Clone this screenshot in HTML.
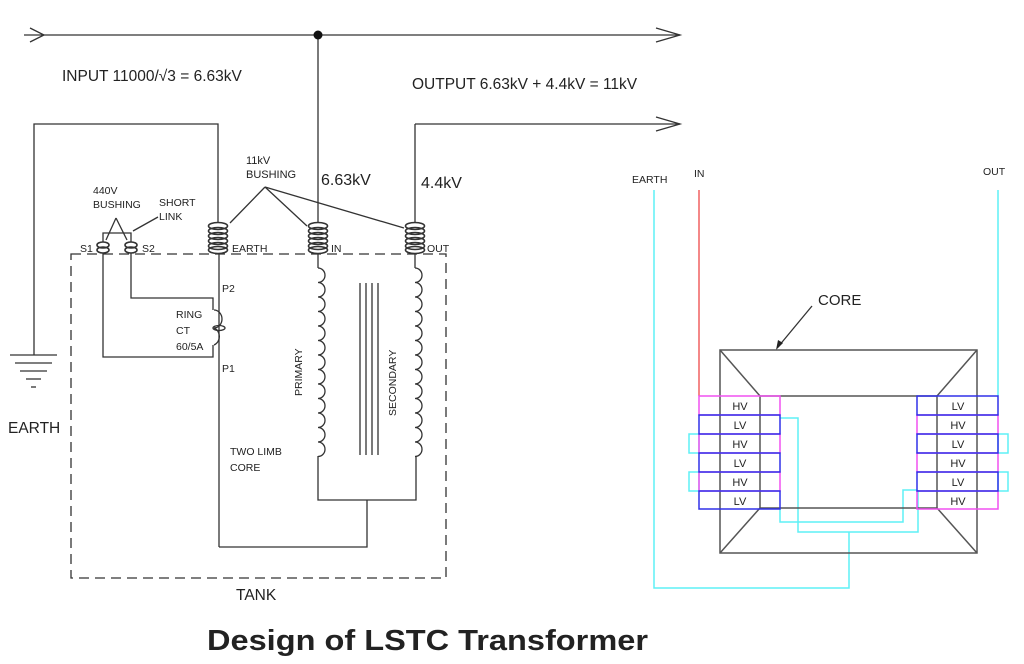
<!DOCTYPE html>
<html><head><meta charset="utf-8"><style>
body{margin:0;background:#fff;}
svg{display:block;}
text{font-family:"Liberation Sans",Arial,sans-serif;fill:#222;}
</style></head><body>
<svg width="1024" height="664" viewBox="0 0 1024 664" xmlns="http://www.w3.org/2000/svg">
<g stroke="#333" stroke-width="1.3" fill="none">
<line x1="24" y1="35" x2="680" y2="35"/>
<polyline points="30,28 44,35 30,42"/>
<polyline points="656,28 680,35 656,42"/>
<line x1="318" y1="35" x2="318" y2="222"/>
<line x1="415" y1="124" x2="680" y2="124"/>
<polyline points="656,117 680,124 656,131"/>
<line x1="415" y1="124" x2="415" y2="222"/>
<polyline points="218,222 218,124 34,124 34,355"/>
<line x1="10" y1="355" x2="57" y2="355"/>
<line x1="15" y1="363" x2="52" y2="363"/>
<line x1="20" y1="371" x2="47" y2="371"/>
<line x1="26" y1="379" x2="41" y2="379"/>
<line x1="31" y1="387" x2="36" y2="387"/>
<rect x="71" y="254" width="375" height="324" stroke-dasharray="10,6"/>
<g stroke-width="1.6">
<ellipse cx="218" cy="226" rx="9.5" ry="3.5"/><ellipse cx="218" cy="231" rx="9.5" ry="3.5"/><ellipse cx="218" cy="236" rx="9.5" ry="3.5"/><ellipse cx="218" cy="241" rx="9.5" ry="3.5"/><ellipse cx="218" cy="246" rx="9.5" ry="3.5"/><ellipse cx="218" cy="250" rx="9.5" ry="3.5"/>
<ellipse cx="318" cy="226" rx="9.5" ry="3.5"/><ellipse cx="318" cy="231" rx="9.5" ry="3.5"/><ellipse cx="318" cy="236" rx="9.5" ry="3.5"/><ellipse cx="318" cy="241" rx="9.5" ry="3.5"/><ellipse cx="318" cy="246" rx="9.5" ry="3.5"/><ellipse cx="318" cy="250" rx="9.5" ry="3.5"/>
<ellipse cx="415" cy="226" rx="9.5" ry="3.5"/><ellipse cx="415" cy="231" rx="9.5" ry="3.5"/><ellipse cx="415" cy="236" rx="9.5" ry="3.5"/><ellipse cx="415" cy="241" rx="9.5" ry="3.5"/><ellipse cx="415" cy="246" rx="9.5" ry="3.5"/><ellipse cx="415" cy="250" rx="9.5" ry="3.5"/>
<ellipse cx="103" cy="245" rx="6" ry="3"/><ellipse cx="103" cy="250" rx="6" ry="3"/>
<ellipse cx="131" cy="245" rx="6" ry="3"/><ellipse cx="131" cy="250" rx="6" ry="3"/>
</g>
<polyline points="103,242 103,233 131,233 131,242"/>
<polyline points="116,218 106,240"/><polyline points="116,218 127,240"/>
<line x1="158" y1="217" x2="133" y2="231"/>
<line x1="265" y1="187" x2="230" y2="223"/>
<line x1="265" y1="187" x2="307" y2="226"/>
<line x1="265" y1="187" x2="404" y2="228"/>
<polyline points="131,253 131,298 213,298 213,310"/>
<polyline points="103,253 103,357 213,357 213,345"/>
<path d="M214,310 a8,9 0 0 1 0,18 a8,9 0 0 1 0,17"/>
<ellipse cx="219" cy="328" rx="6" ry="2.5"/>
<line x1="219" y1="253" x2="219" y2="547"/>
<polyline points="219,547 367,547 367,500"/>
<line x1="318" y1="253" x2="318" y2="268"/>
<path d="M318,268 a7,7.25 0 0 1 0,14.5 a7,7.25 0 0 1 0,14.5 a7,7.25 0 0 1 0,14.5 a7,7.25 0 0 1 0,14.5 a7,7.25 0 0 1 0,14.5 a7,7.25 0 0 1 0,14.5 a7,7.25 0 0 1 0,14.5 a7,7.25 0 0 1 0,14.5 a7,7.25 0 0 1 0,14.5 a7,7.25 0 0 1 0,14.5 a7,7.25 0 0 1 0,14.5 a7,7.25 0 0 1 0,14.5 a7,7.25 0 0 1 0,14.5"/>
<line x1="415" y1="253" x2="415" y2="268"/>
<path d="M415,268 a7,7.25 0 0 1 0,14.5 a7,7.25 0 0 1 0,14.5 a7,7.25 0 0 1 0,14.5 a7,7.25 0 0 1 0,14.5 a7,7.25 0 0 1 0,14.5 a7,7.25 0 0 1 0,14.5 a7,7.25 0 0 1 0,14.5 a7,7.25 0 0 1 0,14.5 a7,7.25 0 0 1 0,14.5 a7,7.25 0 0 1 0,14.5 a7,7.25 0 0 1 0,14.5 a7,7.25 0 0 1 0,14.5 a7,7.25 0 0 1 0,14.5"/>
<polyline points="318,456 318,500 416,500 416,456"/>
<line x1="360" y1="283" x2="360" y2="455"/><line x1="366" y1="283" x2="366" y2="455"/><line x1="372" y1="283" x2="372" y2="455"/><line x1="378" y1="283" x2="378" y2="455"/>
<line x1="812" y1="306" x2="778" y2="347"/>
</g>
<circle cx="318" cy="35" r="4.5" fill="#111"/>
<polygon points="776,350 778,340 783,343" fill="#222"/>
<text x="62" y="81" font-size="15.5">INPUT 11000/√3 = 6.63kV</text>
<text x="412" y="89" font-size="15.5">OUTPUT 6.63kV + 4.4kV = 11kV</text>
<text x="246" y="164" font-size="11">11kV</text>
<text x="246" y="178" font-size="11">BUSHING</text>
<text x="321" y="185" font-size="16">6.63kV</text>
<text x="421" y="188" font-size="16">4.4kV</text>
<text x="93" y="194" font-size="10.5">440V</text>
<text x="93" y="208" font-size="10.5">BUSHING</text>
<text x="159" y="206" font-size="10.5">SHORT</text>
<text x="159" y="220" font-size="10.5">LINK</text>
<text x="80" y="252" font-size="10.5">S1</text>
<text x="142" y="252" font-size="10.5">S2</text>
<text x="232" y="252" font-size="10.5">EARTH</text>
<text x="331" y="252" font-size="10.5">IN</text>
<text x="427" y="252" font-size="10.5">OUT</text>
<text x="222" y="292" font-size="10.5">P2</text>
<text x="222" y="372" font-size="10.5">P1</text>
<text x="176" y="318" font-size="10.5">RING</text>
<text x="176" y="334" font-size="10.5">CT</text>
<text x="176" y="350" font-size="10.5">60/5A</text>
<text x="230" y="455" font-size="10.5">TWO LIMB</text>
<text x="230" y="471" font-size="10.5">CORE</text>
<text transform="translate(302,396) rotate(-90)" font-size="10.5">PRIMARY</text>
<text transform="translate(396,416) rotate(-90)" font-size="10.5">SECONDARY</text>
<text x="8" y="433" font-size="15.5">EARTH</text>
<text x="236" y="600" font-size="15.5">TANK</text>
<text x="207" y="650" font-size="29" font-weight="bold" fill="#000" textLength="441" lengthAdjust="spacingAndGlyphs">Design of LSTC Transformer</text>
<text x="632" y="183" font-size="10.5">EARTH</text>
<text x="694" y="177" font-size="10.5">IN</text>
<text x="983" y="175" font-size="10.5">OUT</text>
<text x="818" y="305" font-size="15">CORE</text>
<g fill="none" stroke-width="1.5">
<line x1="699" y1="190" x2="699" y2="396" stroke="#f06060"/>
<g stroke="#5ef0f5">
<polyline points="654,190 654,588 849,588 849,532"/>
<line x1="998" y1="190" x2="998" y2="396"/>
<polyline points="780,418 798,418 798,532 918,532 918,490"/>
<polyline points="780,509 780,522 903,522 903,490 917,490"/>
<rect x="689" y="434" width="10" height="19"/><rect x="689" y="472" width="10" height="19"/>
<rect x="998" y="434" width="10" height="19"/><rect x="998" y="472" width="10" height="19"/>
</g>
<g stroke="#555">
<rect x="720" y="350" width="257" height="203"/>
<rect x="760" y="396" width="177" height="112"/>
<line x1="720" y1="350" x2="760" y2="396"/><line x1="977" y1="350" x2="937" y2="396"/>
<line x1="720" y1="553" x2="760" y2="508"/><line x1="977" y1="553" x2="937" y2="508"/>
</g>
<g stroke="#f050f0">
<rect x="699" y="396" width="81" height="19"/><rect x="699" y="434" width="81" height="19"/><rect x="699" y="472" width="81" height="19"/>
<rect x="917" y="415" width="81" height="19"/><rect x="917" y="453" width="81" height="19"/><rect x="917" y="491" width="81" height="18"/>
</g>
<g stroke="#3030e8">
<rect x="699" y="415" width="81" height="19"/><rect x="699" y="453" width="81" height="19"/><rect x="699" y="491" width="81" height="18"/>
<rect x="917" y="396" width="81" height="19"/><rect x="917" y="434" width="81" height="19"/><rect x="917" y="472" width="81" height="19"/>
</g>
</g>
<g font-size="11" text-anchor="middle">
<text x="740" y="410">HV</text><text x="740" y="429">LV</text><text x="740" y="448">HV</text><text x="740" y="467">LV</text><text x="740" y="486">HV</text><text x="740" y="505">LV</text>
<text x="958" y="410">LV</text><text x="958" y="429">HV</text><text x="958" y="448">LV</text><text x="958" y="467">HV</text><text x="958" y="486">LV</text><text x="958" y="505">HV</text>
</g>
</svg>
</body></html>
